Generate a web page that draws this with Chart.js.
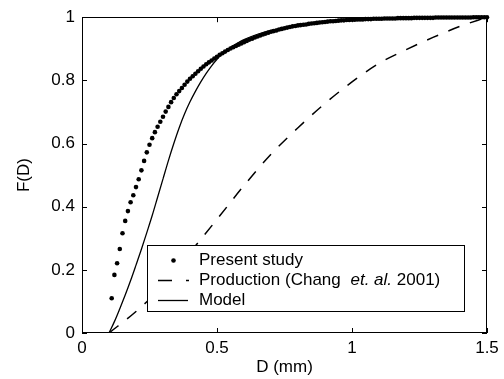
<!DOCTYPE html>
<html>
<head>
<meta charset="utf-8">
<script src="https://cdn.jsdelivr.net/npm/chart.js@4.4.1/dist/chart.umd.min.js"></script>
<style>
html,body{margin:0;padding:0;background:#fff;}
#wrap{width:504px;height:379px;}
</style>
</head>
<body>
<div id="wrap"><canvas id="c" width="504" height="379"></canvas></div>
<script>
// ---- data ----
const presentD = [
0.11,0.12,0.13,0.14,0.15,0.16,0.17,0.18,0.19,0.20,
0.21,0.22,0.23,0.24,0.25,0.26,0.27,0.28,0.29,0.30,
0.31,0.32,0.33,0.34,0.35,0.36,0.37,0.38,0.39,0.40,
0.41,0.42,0.43,0.44,0.45,0.46,0.47,0.48,0.49,0.50,
0.51,0.52,0.53,0.54,0.55,0.56,0.57,0.58,0.59,0.60,
0.61,0.62,0.63,0.64,0.65,0.66,0.67,0.68,0.69,0.70,
0.71,0.72,0.73,0.74,0.75,0.76,0.77,0.78,0.79,0.80,
0.81,0.82,0.83,0.84,0.85,0.86,0.87,0.88,0.89,0.90,
0.91,0.92,0.93,0.94,0.95,0.96,0.97,0.98,0.99,1.00,
1.01,1.02,1.03,1.04,1.05,1.06,1.07,1.08,1.09,1.10,
1.11,1.12,1.13,1.14,1.15,1.16,1.17,1.18,1.19,1.20,
1.21,1.22,1.23,1.24,1.25,1.26,1.27,1.28,1.29,1.30,
1.31,1.32,1.33,1.34,1.35,1.36,1.37,1.38,1.39,1.40,
1.41,1.42,1.43,1.44,1.45,1.46,1.47,1.48,1.49,1.50];
const presentF = [
0.110,0.184,0.221,0.266,0.316,0.355,0.386,0.414,0.436,0.462,
0.487,0.515,0.545,0.572,0.596,0.617,0.636,0.653,0.669,0.685,
0.701,0.716,0.731,0.744,0.756,0.766,0.776,0.786,0.796,0.805,
0.813,0.821,0.829,0.837,0.844,0.851,0.857,0.863,0.869,0.875,
0.881,0.886,0.891,0.896,0.901,0.905,0.909,0.913,0.917,0.921,
0.925,0.929,0.932,0.936,0.939,0.942,0.945,0.948,0.951,0.954,
0.956,0.958,0.961,0.963,0.965,0.967,0.969,0.971,0.972,0.974,
0.975,0.976,0.977,0.979,0.980,0.981,0.982,0.983,0.984,0.985,
0.986,0.987,0.987,0.988,0.989,0.990,0.990,0.991,0.991,0.992,
0.992,0.993,0.993,0.993,0.994,0.994,0.994,0.995,0.995,0.995,
0.995,0.996,0.996,0.996,0.996,0.996,0.997,0.997,0.997,0.997,
0.997,0.997,0.998,0.998,0.998,0.998,0.998,0.998,0.998,0.998,
0.999,0.999,0.999,0.999,0.999,0.999,0.999,0.999,0.999,0.999,
0.999,0.999,0.999,0.999,1.000,1.000,1.000,1.000,1.000,1.000];

const productionD = [0.10,0.20,0.30,0.40,0.50,0.60,0.70,0.80,0.90,1.00,1.10,1.20,1.30,1.40,1.50];
const productionF = [0.000,0.068,0.150,0.255,0.360,0.467,0.566,0.650,0.727,0.795,0.854,0.897,0.936,0.971,1.000];

const modelD = [0.10,0.12,0.14,0.16,0.18,0.20,0.22,0.24,0.26,0.28,0.30,0.32,0.34,0.36,0.38,0.40,0.42,0.44,0.46,0.48,0.50,0.52,0.54,0.56,0.58,0.60,0.65,0.70,0.80,0.90,1.00,1.10,1.20,1.30,1.40,1.50];
const modelF = [0.000,0.036,0.077,0.120,0.166,0.215,0.265,0.318,0.372,0.430,0.488,0.546,0.600,0.650,0.694,0.732,0.765,0.795,0.822,0.846,0.867,0.884,0.898,0.910,0.920,0.929,0.946,0.958,0.975,0.985,0.991,0.995,0.997,0.998,0.999,1.000];

const xTicks = [0, 0.5, 1, 1.5];
const yTicks = [0, 0.2, 0.4, 0.6, 0.8, 1];

const legendLabels = ["Present study", "Production (Chang ", "et. al.", " 2001)", "Model"];
const xTitle = "D (mm)";
const yTitle = "F(D)";

// ---- build ----
const toPts = (xs, ys) => xs.map((x, i) => ({x: x, y: ys[i]}));
const fmt = v => String(Number(Number(v).toFixed(3)));
const FONT = "'Liberation Sans', Arial, Helvetica, sans-serif";

const framePlugin = {
  id: 'frame',
  afterDraw(chart) {
    const {ctx, chartArea: a, scales} = chart;
    ctx.save();
    ctx.strokeStyle = '#000';
    ctx.lineWidth = 1;
    ctx.strokeRect(Math.round(a.left) + 0.5, Math.round(a.top) + 0.5,
                   Math.round(a.right - a.left) - 1, Math.round(a.bottom - a.top) - 1);
    const tl = 5;
    ctx.beginPath();
    xTicks.forEach(v => {
      const px = Math.round(scales.x.getPixelForValue(v)) + 0.5;
      ctx.moveTo(px, a.bottom); ctx.lineTo(px, a.bottom - tl);
      ctx.moveTo(px, a.top); ctx.lineTo(px, a.top + tl);
    });
    yTicks.forEach(v => {
      const py = Math.round(scales.y.getPixelForValue(v)) + 0.5;
      ctx.moveTo(a.left, py); ctx.lineTo(a.left + tl, py);
      ctx.moveTo(a.right, py); ctx.lineTo(a.right - tl, py);
    });
    ctx.stroke();

    // legend box
    const bx = 147.5, by = 245.5, bw = 317, bh = 66;
    ctx.fillStyle = '#fff';
    ctx.fillRect(bx, by, bw, bh);
    ctx.strokeRect(bx, by, bw, bh);
    const rows = [260.5, 280.5, 300.5];
    const tx = 199;
    ctx.fillStyle = '#000';
    ctx.beginPath(); ctx.arc(173.5, rows[0], 2.3, 0, Math.PI * 2); ctx.fill();
    ctx.lineWidth = 1.5;
    ctx.beginPath();
    ctx.moveTo(158, rows[1]); ctx.lineTo(172, rows[1]);
    ctx.moveTo(186, rows[1]); ctx.lineTo(189, rows[1]);
    ctx.stroke();
    ctx.lineWidth = 1.3;
    ctx.beginPath(); ctx.moveTo(158, rows[2]); ctx.lineTo(188, rows[2]); ctx.stroke();
    ctx.textBaseline = 'middle';
    ctx.textAlign = 'left';
    ctx.font = '17px ' + FONT;
    ctx.fillText(legendLabels[0], tx, rows[0]);
    let x = tx;
    ctx.fillText(legendLabels[1], x, rows[1]);
    x += ctx.measureText(legendLabels[1]).width + 5;
    ctx.font = 'italic 17px ' + FONT;
    ctx.fillText(legendLabels[2], x, rows[1]);
    x += ctx.measureText(legendLabels[2]).width;
    ctx.font = '17px ' + FONT;
    ctx.fillText(legendLabels[3], x, rows[1]);
    ctx.fillText(legendLabels[4], tx, rows[2]);
    ctx.restore();
  }
};

new Chart(document.getElementById('c'), {
  type: 'scatter',
  data: {
    datasets: [
      {
        label: 'Present study',
        data: toPts(presentD, presentF),
        showLine: false,
        pointRadius: 2.3,
        pointBackgroundColor: '#000',
        pointBorderWidth: 0,
        clip: false
      },
      {
        label: 'Production',
        data: toPts(productionD, productionF),
        showLine: true,
        borderColor: '#000',
        borderWidth: 1.5,
        borderDash: [12, 11],
        pointRadius: 0,
        cubicInterpolationMode: 'monotone'
      },
      {
        label: 'Model',
        data: toPts(modelD, modelF),
        showLine: true,
        borderColor: '#000',
        borderWidth: 1.3,
        pointRadius: 0,
        cubicInterpolationMode: 'monotone'
      }
    ]
  },
  options: {
    responsive: false,
    animation: false,
    devicePixelRatio: 1,
    layout: {padding: {top: 14, right: 17, left: 0, bottom: 0}},
    plugins: {legend: {display: false}, tooltip: {enabled: false}},
    scales: {
      x: {
        type: 'linear', min: 0, max: 1.5,
        afterBuildTicks: s => { s.ticks = xTicks.map(v => ({value: v})); },
        afterFit: s => { s.height = 46; },
        grid: {display: false, drawTicks: false},
        border: {display: false},
        ticks: {color: '#000', font: {size: 17, family: FONT}, padding: 5, maxRotation: 0, autoSkip: false, callback: v => fmt(v)},
        title: {display: true, text: xTitle, color: '#000', font: {size: 17, family: FONT}, padding: {top: 0, bottom: 1}}
      },
      y: {
        type: 'linear', min: 0, max: 1,
        afterBuildTicks: s => { s.ticks = yTicks.map(v => ({value: v})); },
        afterFit: s => { s.width = 82; },
        grid: {display: false, drawTicks: false},
        border: {display: false},
        ticks: {color: '#000', font: {size: 17, family: FONT}, padding: 7, autoSkip: false, callback: v => fmt(v)},
        title: {display: true, text: yTitle, color: '#000', font: {size: 17, family: FONT}, padding: {top: 14, bottom: 0}}
      }
    }
  },
  plugins: [framePlugin]
});
</script>
</body>
</html>
